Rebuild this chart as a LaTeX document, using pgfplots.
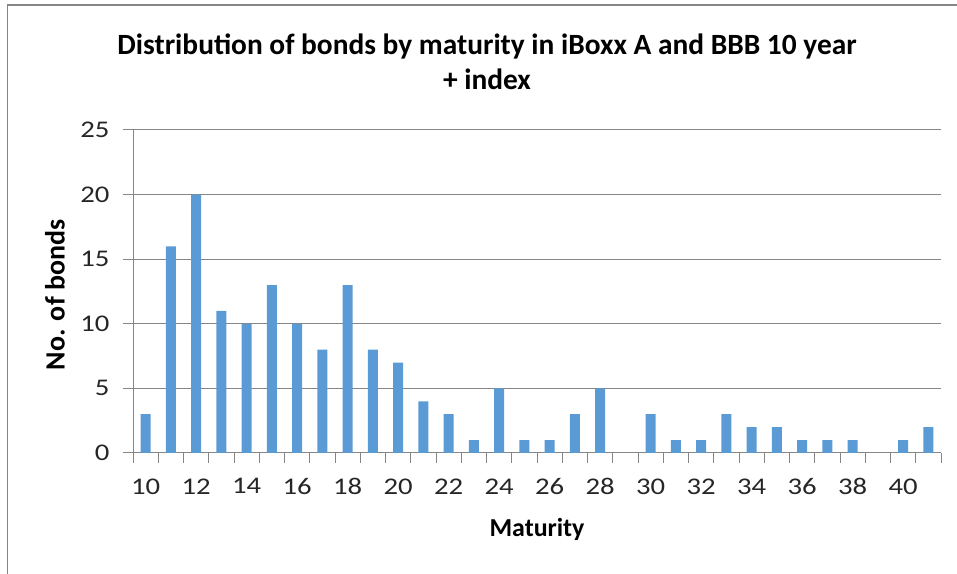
\documentclass[border=0pt]{standalone}
\usepackage{pgfplots}
\pgfplotsset{compat=1.18}
\usepackage{graphicx}
\usepackage{fontspec}
\setmainfont{Carlito}
\newcommand{\sx}[1]{\scalebox{1.2}[1]{#1}}
\definecolor{barblue}{RGB}{91,155,213}
\definecolor{axgray}{RGB}{134,134,134}
\begin{document}
\begin{tikzpicture}[x=1bp,y=1bp]
\path[use as bounding box] (0,0) rectangle (957,574);
\draw[axgray,line width=1.5bp] (7.5,0) -- (7.5,569) -- (957,569);
\node[font=\fontsize{29.5}{35}\selectfont\bfseries,align=center] at (487,512) {Distribution of bonds by maturity in iBoxx A and BBB 10 year\\+ index};
\begin{axis}[
  at={(133bp,121bp)}, anchor=south west,
  width=808bp, height=323bp, scale only axis,
  xmin=9.5, xmax=41.5, ymin=0, ymax=25,
  axis x line*=bottom, axis y line*=left,
  axis line style={axgray,line width=1bp,-},
  ytick={0,5,...,25},
  yticklabel={\sx{\pgfmathprintnumber{\tick}}},
  xtick={9.5,10.5,...,41.5}, xticklabels={},
  extra x ticks={10,12,...,40},
  extra x tick labels={\sx{10},\sx{12},\sx{14},\sx{16},\sx{18},\sx{20},\sx{22},\sx{24},\sx{26},\sx{28},\sx{30},\sx{32},\sx{34},\sx{36},\sx{38},\sx{40}},
  extra x tick style={major tick length=0pt, xticklabel style={anchor=north, yshift=-22bp}},
  ymajorgrids, grid style={axgray,line width=1bp},
  major tick length=10bp,
  every tick/.style={axgray,line width=1bp},
  tick align=outside,
  every tick label/.append style={font=\fontsize{24}{28}\selectfont, text=black!85},
  /pgf/number format/assume math mode=true,
  yticklabel style={anchor=east, xshift=-10bp},
  xlabel={\bfseries Maturity}, ylabel={\bfseries No. of bonds},
  xlabel style={font=\fontsize{26}{30}\selectfont, at={(axis description cs:0.5,-0.238)}, anchor=center},
  ylabel style={font=\fontsize{28}{32}\selectfont, at={(axis description cs:-0.0965,0.489)}, anchor=center, rotate=0},
  ybar, bar width=10bp,
]
\addplot[fill=barblue, draw=none] coordinates {
(10,3) (11,16) (12,20) (13,11) (14,10) (15,13) (16,10) (17,8) (18,13) (19,8)
(20,7) (21,4) (22,3) (23,1) (24,5) (25,1) (26,1) (27,3) (28,5) (29,0)
(30,3) (31,1) (32,1) (33,3) (34,2) (35,2) (36,1) (37,1) (38,1) (39,0)
(40,1) (41,2)};
\end{axis}
\end{tikzpicture}
\end{document}
